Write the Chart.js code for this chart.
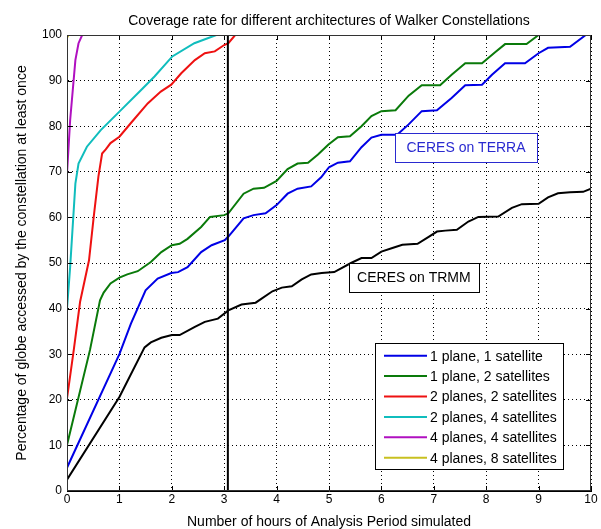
<!DOCTYPE html>
<html>
<head>
<meta charset="utf-8">
<script src="https://cdn.jsdelivr.net/npm/chart.js@4.4.0/dist/chart.umd.min.js"></script>
<style>
  html, body { margin: 0; padding: 0; background: #fff; }
</style>
</head>
<body>
<canvas id="coverageChart" width="601" height="529"></canvas>
<script>
// hours simulated / percentage covered
let hours1p1s = [0, 1.0, 1.22, 1.5, 1.73, 1.99, 2.12, 2.3, 2.56, 2.76, 3.01, 3.08, 3.37, 3.56, 3.79, 4.0, 4.21, 4.4, 4.66, 4.85, 5.0, 5.17, 5.4, 5.62, 5.81, 6.0, 6.3, 6.52, 6.77, 7.06, 7.34, 7.6, 7.92, 8.11, 8.36, 8.74, 9.0, 9.18, 9.6, 9.9];
let pct1p1s   = [5.1, 30, 36.7, 44, 46.6, 47.8, 48, 49.1, 52.4, 53.9, 55, 55.8, 59.8, 60.5, 60.9, 62.7, 65.2, 66.3, 66.8, 68.8, 71, 72, 72.3, 75.4, 77.5, 78.1, 78.1, 80.4, 83.3, 83.5, 86.2, 89, 89.1, 91.3, 93.8, 93.8, 96, 97.2, 97.4, 100];

let hours1p2s = [0, 0.44, 0.63, 0.7, 0.83, 1.0, 1.15, 1.35, 1.6, 1.8, 2.0, 2.15, 2.3, 2.56, 2.73, 3.0, 3.08, 3.37, 3.56, 3.76, 4.0, 4.21, 4.4, 4.6, 4.79, 4.99, 5.17, 5.4, 5.62, 5.81, 6.0, 6.27, 6.52, 6.77, 7.12, 7.34, 7.6, 7.92, 8.17, 8.36, 8.77, 9.0];
let pct1p2s   = [10.1, 31, 41.8, 43.5, 45.5, 46.8, 47.5, 48.2, 50.2, 52.4, 53.9, 54.2, 55.3, 57.9, 60.1, 60.5, 60.9, 65.2, 66.3, 66.5, 68, 70.6, 71.8, 72, 73.8, 76, 77.6, 77.8, 80, 82.2, 83.3, 83.5, 86.7, 89, 89, 91.3, 93.8, 93.8, 96.2, 98, 98, 100];

let hours2p2s = [0, 0.13, 0.25, 0.42, 0.51, 0.6, 0.67, 0.74, 0.83, 1.0, 1.22, 1.54, 1.79, 1.99, 2.18, 2.44, 2.63, 2.82, 3.0, 3.08, 3.21];
let pct2p2s   = [20.3, 31, 41.5, 50.6, 60.1, 69, 74, 74.9, 76.3, 77.7, 80.7, 85, 87.6, 89.1, 91.6, 94.5, 96, 96.4, 97.8, 98.2, 100];

let hours2p4s = [0, 0.06, 0.16, 0.22, 0.38, 0.64, 1.0, 1.41, 1.67, 2.01, 2.43, 2.85];
let pct2p4s   = [40, 49.1, 67.4, 71.8, 75.5, 79.1, 83.2, 87.9, 90.9, 95.3, 98.2, 100];

let hours4p4s = [0, 0.06, 0.16, 0.22, 0.29];
let pct4p4s   = [69.6, 81.3, 94.5, 98.2, 100];

let hours4p8s = [0, 0.03];
let pct4p8s   = [99.4, 100];

let hoursTrmm = [0, 1.0, 1.48, 1.6, 1.8, 2.0, 2.15, 2.44, 2.63, 2.88, 3.08, 3.33, 3.6, 3.92, 4.1, 4.29, 4.48, 4.66, 4.86, 5.1, 5.42, 5.62, 5.81, 6.0, 6.21, 6.4, 6.69, 6.91, 7.06, 7.22, 7.44, 7.66, 7.85, 8.23, 8.49, 8.68, 9.0, 9.18, 9.37, 9.6, 9.85, 10];
let pctTrmm   = [2.5, 20.6, 31.5, 32.6, 33.6, 34.2, 34.2, 36, 37.1, 37.8, 39.6, 40.9, 41.3, 43.8, 44.6, 44.9, 46.4, 47.5, 47.8, 48, 50, 51.1, 51.1, 52.5, 53.3, 54, 54.2, 55.8, 56.9, 57.1, 57.3, 59.1, 60.1, 60.2, 62.1, 62.9, 63, 64.4, 65.3, 65.5, 65.6, 66.3];

// analysis period marker
let markerHours = [3.07, 3.07];
let markerPct = [0, 100];

let seriesLabels = ['1 plane, 1 satellite', '1 plane, 2 satellites', '2 planes, 2 satellites',
                    '2 planes, 4 satellites', '4 planes, 4 satellites', '4 planes, 8 satellites'];
let xTicks = [0, 1, 2, 3, 4, 5, 6, 7, 8, 9, 10];
let yTicks = [0, 10, 20, 30, 40, 50, 60, 70, 80, 90, 100];

let chartTitle = 'Coverage rate for different architectures of Walker Constellations';

// note boxes: [text, x from, x to, y from, y to, colour] in data units
let notes = [
  ['CERES on TERRA', 6.26, 8.97, 72.1, 78.5, '#2a2ad0'],
  ['CERES on TRMM', 5.38, 7.86, 43.6, 50.0, '#000']
];

function pts(xs, ys) {
  return xs.map((x, i) => ({ x: x, y: ys[i] }));
}

function line(label, xs, ys, color, width) {
  return {
    label: label,
    data: pts(xs, ys),
    borderColor: color,
    backgroundColor: color,
    borderWidth: width || 2,
    pointRadius: 0,
    fill: false,
    tension: 0
  };
}

let fontFamily = '"Liberation Sans", Arial, sans-serif';

let frameAndNotes = {
  id: 'frameAndNotes',
  afterDatasetsDraw(chart) {
    let ctx = chart.ctx;
    let a = chart.chartArea;
    let xs = chart.scales.x, ys = chart.scales.y;
    ctx.save();

    // title, centred over the axes
    ctx.fillStyle = '#000';
    ctx.font = '14px ' + fontFamily;
    ctx.textAlign = 'center';
    ctx.textBaseline = 'middle';
    ctx.fillText(chartTitle, (a.left + a.right) / 2, 21);

    // inward ticks like matlab
    ctx.strokeStyle = '#000';
    ctx.lineWidth = 1;
    ctx.beginPath();
    xTicks.forEach(t => {
      let px = Math.round(xs.getPixelForValue(t)) + 0.5;
      ctx.moveTo(px, a.bottom); ctx.lineTo(px, a.bottom - 5);
      ctx.moveTo(px, a.top); ctx.lineTo(px, a.top + 5);
    });
    yTicks.forEach(t => {
      let py = Math.round(ys.getPixelForValue(t)) + 0.5;
      ctx.moveTo(a.left, py); ctx.lineTo(a.left + 5, py);
      ctx.moveTo(a.right, py); ctx.lineTo(a.right - 5, py);
    });
    ctx.stroke();

    // box around the axes
    ctx.strokeStyle = '#333';
    ctx.strokeRect(Math.round(a.left) + 0.5, Math.round(a.top) + 0.5,
                   Math.round(a.width) - 1, Math.round(a.height) - 1);

    // text notes
    notes.forEach(n => {
      let l = xs.getPixelForValue(n[1]), r = xs.getPixelForValue(n[2]);
      let t = ys.getPixelForValue(n[4]), b = ys.getPixelForValue(n[3]);
      ctx.fillStyle = '#fff';
      ctx.fillRect(l, t, r - l, b - t);
      ctx.strokeStyle = n[5];
      ctx.lineWidth = 1;
      ctx.strokeRect(Math.round(l) + 0.5, Math.round(t) + 0.5, Math.round(r - l), Math.round(b - t));
      ctx.fillStyle = n[5];
      ctx.fillText(n[0], (l + r) / 2, (t + b) / 2 + 1);
    });

    // legend in the lower right corner
    let lgW = 188, lgH = 126;
    let lgL = a.right - 28 - lgW, lgT = a.bottom - 22 - lgH;
    ctx.fillStyle = '#fff';
    ctx.fillRect(lgL, lgT, lgW, lgH);
    ctx.strokeStyle = '#000';
    ctx.strokeRect(Math.round(lgL) + 0.5, Math.round(lgT) + 0.5, lgW, lgH);
    ctx.textAlign = 'left';
    let items = chart.data.datasets.filter(d => seriesLabels.includes(d.label));
    items.forEach((d, i) => {
      let cy = lgT + 12.7 + i * 20.4;
      ctx.strokeStyle = d.borderColor;
      ctx.lineWidth = 2;
      ctx.beginPath();
      ctx.moveTo(lgL + 9, cy); ctx.lineTo(lgL + 52, cy);
      ctx.stroke();
      ctx.fillStyle = '#000';
      ctx.fillText(d.label, lgL + 55, cy + 1);
    });
    ctx.restore();
  }
};

let ctx = document.getElementById('coverageChart');

let coverageChart = new Chart(ctx, {
  type: 'line',
  data: {
    datasets: [
      line('', markerHours, markerPct, '#000', 2),
      line('CERES on TRMM', hoursTrmm, pctTrmm, '#000', 2),
      line(seriesLabels[0], hours1p1s, pct1p1s, '#0000e6'),
      line(seriesLabels[1], hours1p2s, pct1p2s, '#0a7a0a'),
      line(seriesLabels[2], hours2p2s, pct2p2s, '#ee1111'),
      line(seriesLabels[3], hours2p4s, pct2p4s, '#10bdbd'),
      line(seriesLabels[4], hours4p4s, pct4p4s, '#b010c0'),
      line(seriesLabels[5], hours4p8s, pct4p8s, '#c8c020')
    ]
  },
  options: {
    responsive: false,
    animation: false,
    layout: { padding: { left: 0, right: 10, top: 35, bottom: 0 } },
    plugins: {
      legend: { display: false },
      tooltip: { enabled: false },
      title: { display: false }
    },
    scales: {
      x: {
        type: 'linear',
        min: 0,
        max: 10,
        afterBuildTicks: s => { s.ticks = xTicks.map(v => ({ value: v })); },
        afterFit: s => { s.height = 38; },
        ticks: { color: '#000', padding: 1, font: { family: fontFamily, size: 12 } },
        grid: { color: '#000', drawTicks: false, lineWidth: 1 },
        border: { color: '#000', dash: [1, 3] },
        title: {
          display: true,
          text: 'Number of hours of Analysis Period simulated',
          color: '#000',
          font: { family: fontFamily, size: 14, lineHeight: 1 },
          padding: { top: 0, bottom: 0 }
        }
      },
      y: {
        type: 'linear',
        min: 0,
        max: 100,
        afterBuildTicks: s => { s.ticks = yTicks.map(v => ({ value: v })); },
        afterFit: s => { s.width = 67; },
        ticks: { color: '#000', padding: 5, font: { family: fontFamily, size: 12 } },
        grid: { color: '#000', drawTicks: false, lineWidth: 1 },
        border: { color: '#000', dash: [1, 3] },
        title: {
          display: true,
          text: 'Percentage of globe accessed by the constellation at least once',
          color: '#000',
          font: { family: fontFamily, size: 14 },
          padding: { top: 14, bottom: 0 }
        }
      }
    }
  },
  plugins: [frameAndNotes]
});
</script>
</body>
</html>
